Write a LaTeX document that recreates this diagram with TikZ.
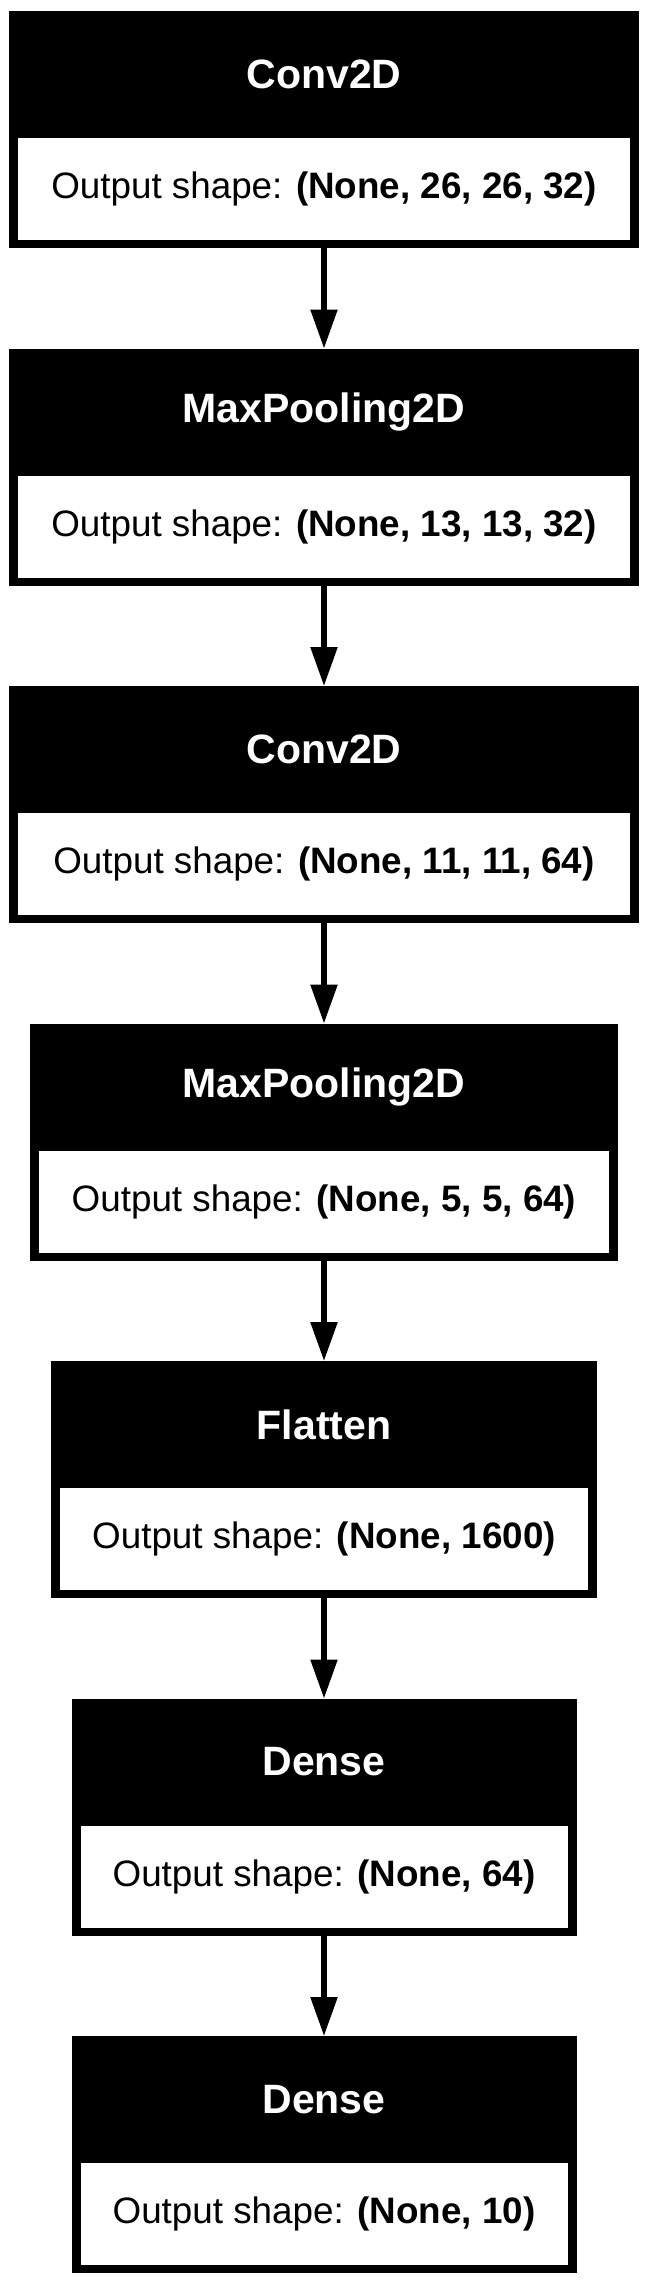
\documentclass[tikz,border=0pt]{standalone}
\usepackage{fontspec}
\setmainfont{Liberation Sans}
\usetikzlibrary{arrows.meta}
\tikzset{
  layerbox/.style={fill=black, draw=none, inner sep=0pt, minimum height=237pt},
  shapebox/.style={fill=white, draw=none, inner sep=0pt, minimum height=102pt},
  titletext/.style={text=white, font=\fontsize{41}{41}\selectfont\bfseries, inner sep=0pt},
  shapetext/.style={text=black, font=\fontsize{36.8}{37}\selectfont, inner sep=0pt},
  flow/.style={line width=5.5pt, -{Triangle[length=39pt,width=26pt]}}
}
\newcommand{\layer}[5]{% name, y-top, width, title, shape
  \node[layerbox, minimum width=#3pt, anchor=north] (#1) at (324,#2) {};
  \node[titletext] (#1t) at ([yshift=-63.5pt]#1.north) {#4};
  \node[shapebox, minimum width=#3pt-18pt, anchor=south] (#1s) at ([yshift=8pt]#1.south) {};
  \node[shapetext] (#1o) at (#1s.center) {\vphantom{(}Output shape: \textbf{#5}};
}
\begin{document}
\begin{tikzpicture}[x=1pt,y=-1pt]
\useasboundingbox[fill=white] (0,0) rectangle (649,2285);
\layer{c1}{11}{630}{Conv2D}{(None, 26, 26, 32)}
\layer{p1}{348.5}{630}{MaxPooling2D}{(None, 13, 13, 32)}
\layer{c2}{686}{630}{Conv2D}{(None, 11, 11, 64)}
\layer{p2}{1023.5}{588}{MaxPooling2D}{(None, 5, 5, 64)}
\layer{fl}{1361}{546}{Flatten}{(None, 1600)}
\layer{d1}{1698.5}{505}{Dense}{(None, 64)}
\layer{d2}{2036}{505}{Dense}{(None, 10)}
\draw[flow] (c1.south) -- (p1.north);
\draw[flow] (p1.south) -- (c2.north);
\draw[flow] (c2.south) -- (p2.north);
\draw[flow] (p2.south) -- (fl.north);
\draw[flow] (fl.south) -- (d1.north);
\draw[flow] (d1.south) -- (d2.north);
\end{tikzpicture}
\end{document}
